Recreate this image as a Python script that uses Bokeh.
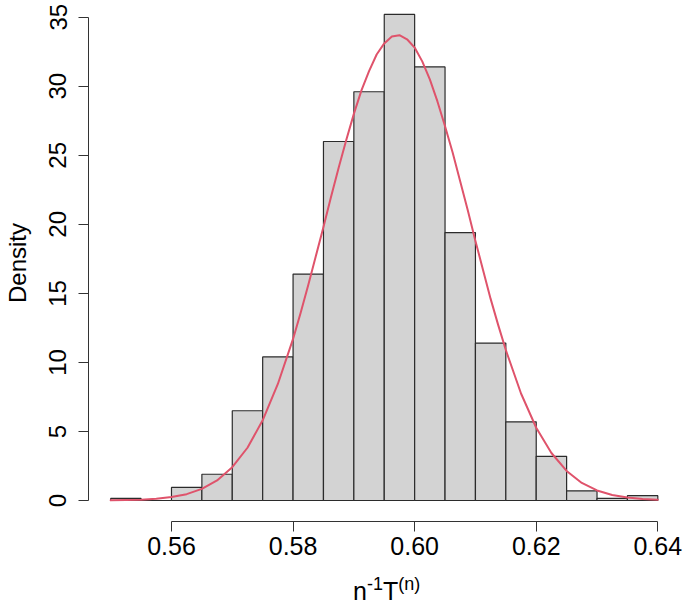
from bokeh.plotting import figure
from bokeh.models import Range1d, FixedTicker, NumeralTickFormatter, Div
from bokeh.layouts import column
from bokeh.embed import file_html
from bokeh.resources import INLINE

# Histogram bins (width 0.005) and densities
bin_left = [0.550, 0.555, 0.560, 0.565, 0.570, 0.575, 0.580, 0.585, 0.590,
            0.595, 0.600, 0.605, 0.610, 0.615, 0.620, 0.625, 0.630, 0.635]
bin_right = [0.555, 0.560, 0.565, 0.570, 0.575, 0.580, 0.585, 0.590, 0.595,
             0.600, 0.605, 0.610, 0.615, 0.620, 0.625, 0.630, 0.635, 0.640]
density = [0.15, 0.0, 0.95, 1.9, 6.5, 10.4, 16.4, 26.0, 29.6,
           35.2, 31.4, 19.4, 11.4, 5.7, 3.2, 0.7, 0.15, 0.35]

# Red density curve
curve_x = [0.55000, 0.55250, 0.55500, 0.55750, 0.56000, 0.56250, 0.56500, 0.56750,
           0.57000, 0.57250, 0.57500, 0.57750, 0.58000, 0.58125, 0.58250, 0.58375,
           0.58500, 0.58625, 0.58750, 0.58875, 0.59000, 0.59125, 0.59250, 0.59375,
           0.59500, 0.59625, 0.59750, 0.59875, 0.60000, 0.60125, 0.60250, 0.60375,
           0.60500, 0.60625, 0.60750, 0.60875, 0.61000, 0.61125, 0.61250, 0.61375,
           0.61500, 0.61750, 0.62000, 0.62250, 0.62500, 0.62750, 0.63000, 0.63250,
           0.63500, 0.63750, 0.64000]
curve_y = [0.01, 0.03, 0.06, 0.12, 0.25, 0.46, 0.84, 1.45,
           2.41, 3.82, 5.81, 8.44, 11.7, 13.6, 15.6, 17.7,
           19.8, 22.0, 24.1, 26.1, 28.0, 29.7, 31.1, 32.3,
           33.1, 33.6, 33.7, 33.4, 32.8, 31.8, 30.5, 28.9,
           27.1, 25.2, 23.1, 21.0, 18.8, 16.7, 14.6, 12.7,
           10.9, 7.75, 5.27, 3.44, 2.14, 1.27, 0.73, 0.40,
           0.21, 0.10, 0.05]

x_ticks = [0.56, 0.58, 0.60, 0.62, 0.64]
y_ticks = [0, 5, 10, 15, 20, 25, 30, 35]

FONT = "Liberation Sans"

p = figure(frame_width=591, frame_height=517,
           min_border_left=88, min_border_right=6,
           min_border_top=4, min_border_bottom=44,
           x_range=Range1d(0.546349, 0.643569), y_range=Range1d(-1.5208, 35.92),
           output_backend="svg", toolbar_location=None,
           background_fill_color="white", border_fill_color="white")
p.outline_line_color = None
p.grid.visible = False

p.quad(left=bin_left, right=bin_right, top=density, bottom=0,
       fill_color="#D3D3D3", line_color="#2b2b2b", line_width=1.2)
p.line(curve_x, curve_y, line_color="#DF536B", line_width=2,
       line_join="round", line_cap="round")

for ax in (p.xaxis[0], p.yaxis[0]):
    ax.axis_line_color = "#333333"
    ax.major_tick_line_color = "#333333"
    ax.minor_tick_line_color = None
    ax.major_tick_out = 10
    ax.major_tick_in = 0
    ax.major_label_text_font = FONT
    ax.major_label_text_color = "black"
    ax.axis_label_text_font = FONT
    ax.axis_label_text_font_style = "normal"
    ax.axis_label_text_color = "black"

p.xaxis.bounds = (0.56, 0.64)
p.xaxis.ticker = FixedTicker(ticks=x_ticks)
p.xaxis.formatter = NumeralTickFormatter(format="0.00")
p.xaxis.major_label_text_font_size = "25px"
p.xaxis.major_label_standoff = 5

p.yaxis.bounds = (0, 35)
p.yaxis.ticker = FixedTicker(ticks=y_ticks)
p.yaxis.major_label_orientation = "vertical"
p.yaxis.major_label_text_font_size = "24px"
p.yaxis.major_label_standoff = 12
p.yaxis.axis_label = "Density"
p.yaxis.axis_label_text_font_size = "24px"
p.yaxis.axis_label_standoff = 16

# x-axis title with real superscripts, set as HTML text below the figure
sup = "font-size:18px; vertical-align:10px; line-height:0;"
xlabel = Div(
    text=("<span style='margin-left:348px'>n<span style='%s'>-1</span>"
          "T<span style='%s'>(n)</span></span>") % (sup, sup),
    width=685, height=38,
    styles={"font-family": FONT, "font-size": "25px", "line-height": "25px",
            "color": "black", "padding-top": "9px", "white-space": "nowrap"})

layout = column(p, xlabel, spacing=0)
open("out.html", "w").write(file_html(layout, INLINE))
